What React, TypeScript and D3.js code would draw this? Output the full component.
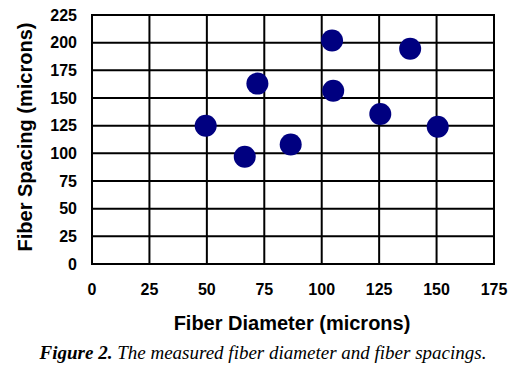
import React from 'react';
import * as d3 from 'd3';

const diameters = [49.5, 66.5, 72, 86.5, 104.5, 105, 125.5, 138.5, 150.5];
const spacings = [125, 97, 163, 108, 202, 156.5, 135.5, 194.5, 124];
const xTicks = [0, 25, 50, 75, 100, 125, 150, 175];
const yTicks = [0, 25, 50, 75, 100, 125, 150, 175, 200, 225];

const xTitle = 'Fiber Diameter (microns)';
const yTitle = 'Fiber Spacing (microns)';

const W = 514;
const H = 375;
const left = 92;
const right = 494;
const top = 15;
const bottom = 264;

export default function App() {
  const x = d3.scaleLinear().domain([0, 175]).range([left, right]);
  const y = d3.scaleLinear().domain([0, 225]).range([bottom, top]);
  const font = 'Liberation Sans, Arial, sans-serif';

  return (
    <svg width={W} height={H} style={{ position: 'absolute', left: 0, top: 0, background: '#fff' }}>
      {/* grid */}
      {xTicks.map((t) => (
        <line key={'gx' + t} x1={x(t)} x2={x(t)} y1={top} y2={bottom} stroke="#000" strokeWidth={2} />
      ))}
      {yTicks.map((t) => (
        <line key={'gy' + t} x1={left - 1} x2={right + 1} y1={y(t)} y2={y(t)} stroke="#000" strokeWidth={2} />
      ))}

      {/* tick labels */}
      {yTicks.map((t) => (
        <text key={'ly' + t} x={77} y={y(t)} dy="0.36em" textAnchor="end"
          fontFamily={font} fontWeight="bold" fontSize={16} fill="#000">{t}</text>
      ))}
      {xTicks.map((t) => (
        <text key={'lx' + t} x={x(t)} y={289} dy="0.36em" textAnchor="middle"
          fontFamily={font} fontWeight="bold" fontSize={16} fill="#000">{t}</text>
      ))}

      {/* points */}
      {diameters.map((d, i) => (
        <circle key={'p' + i} cx={x(d)} cy={y(spacings[i])} r={11} fill="#000080" />
      ))}

      {/* titles */}
      <text x={292} y={323} dy="0.36em" textAnchor="middle"
        fontFamily={font} fontWeight="bold" fontSize={20} fill="#000">{xTitle}</text>
      <text transform={`translate(25,${137}) rotate(-90)`} dy="0.36em" textAnchor="middle"
        fontFamily={font} fontWeight="bold" fontSize={20} fill="#000">{yTitle}</text>

      {/* caption */}
      <text x={263} y={359} textAnchor="middle" fontFamily="Liberation Serif, Times New Roman, serif"
        fontStyle="italic" fontSize={19} fill="#000">
        <tspan fontWeight="bold">Figure 2.</tspan> The measured fiber diameter and fiber spacings.
      </text>
    </svg>
  );
}
